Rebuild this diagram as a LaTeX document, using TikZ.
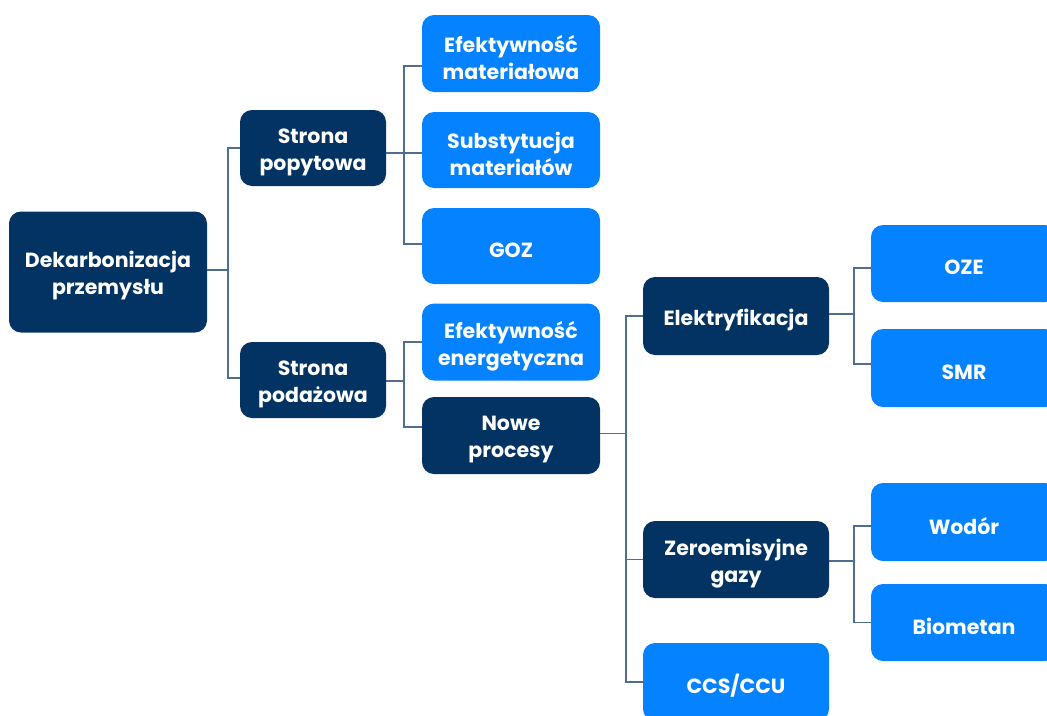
\documentclass[tikz,border=0pt]{standalone}
\usepackage{fontspec}
\setmainfont{Poppins}
\definecolor{navy}{HTML}{023363}
\definecolor{bright}{HTML}{0582FF}
\definecolor{linec}{HTML}{4F6E91}
\begin{document}
\begin{tikzpicture}[x=1pt,y=-1pt,
  box/.style={rounded corners=12pt, inner sep=0pt},
  txt/.style={align=center, text=white, inner sep=0pt, yshift=-4pt,
    font=\fontsize{20.5}{27}\selectfont\bfseries},
  dark/.style={box, fill=navy},
  light/.style={box, fill=bright},
  conn/.style={draw=linec, line width=1.1pt}]
\useasboundingbox (0,0) rectangle (1047,715);
\clip (0,0) rectangle (1047,715);
\node[dark, minimum width=198pt, minimum height=121pt, label={[txt]center:{Dekarbonizacja\\przemysłu}}] (dek) at (108,272) {};
\node[dark, minimum width=146pt, minimum height=76pt, label={[txt]center:{Strona\\popytowa}}] (pop) at (313,148) {};
\node[dark, minimum width=146pt, minimum height=76pt, label={[txt]center:{Strona\\podażowa}}] (pod) at (313,380) {};
\node[light, minimum width=178pt, minimum height=77pt, label={[txt]center:{Efektywność\\materiałowa}}] (em) at (511,53.5) {};
\node[light, minimum width=178pt, minimum height=76pt, label={[txt]center:{Substytucja\\materiałów}}] (sm) at (511,150) {};
\node[light, minimum width=178pt, minimum height=76pt, label={[txt]center:{GOZ}}] (goz) at (511,246) {};
\node[light, minimum width=178pt, minimum height=77pt, label={[txt]center:{Efektywność\\energetyczna}}] (ee) at (511,342) {};
\node[dark, minimum width=178pt, minimum height=77pt, label={[txt]center:{Nowe\\procesy}}] (np) at (511,435.5) {};
\node[dark, minimum width=186pt, minimum height=78pt, label={[txt]center:{Elektryfikacja}}] (el) at (736,316) {};
\node[dark, minimum width=186pt, minimum height=77pt, label={[txt]center:{Zeroemisyjne\\gazy}}] (zg) at (736,559.5) {};
\node[light, minimum width=186pt, minimum height=78pt, label={[txt]center:{CCS/CCU}}] (ccs) at (736,682) {};
\node[light, minimum width=186pt, minimum height=77pt, label={[txt]center:{OZE}}] (oze) at (964,263.5) {};
\node[light, minimum width=186pt, minimum height=78pt, label={[txt]center:{SMR}}] (smr) at (964,368) {};
\node[light, minimum width=186pt, minimum height=78pt, label={[txt]center:{Wodór}}] (wod) at (964,522) {};
\node[light, minimum width=186pt, minimum height=77pt, label={[txt]center:{Biometan}}] (bio) at (964,622.5) {};
\coordinate (b1) at (228,0);
\coordinate (b2) at (404,0);
\coordinate (b3) at (626,0);
\coordinate (b4) at (854,0);
% level 1
\draw[conn] ([yshift=2pt]dek.east) -- ([yshift=2pt]dek.east -| b1);
\draw[conn] (pop.west) -- (pop.west -| b1) -- ([yshift=2pt]pod.west -| b1) -- ([yshift=2pt]pod.west);
% popytowa
\draw[conn] ([yshift=-5pt]pop.east) -- ([yshift=-5pt]pop.east -| sm.west);
\draw[conn] ([yshift=-12.5pt]em.west) -- ([yshift=-12.5pt]em.west -| b2) -- ([yshift=2pt]goz.west -| b2) -- ([yshift=2pt]goz.west);
% podazowa
\draw[conn] ([yshift=-1pt]pod.east) -- ([yshift=-1pt]pod.east -| b2);
\draw[conn] (ee.west) -- (ee.west -| b2) -- ([yshift=8.5pt]np.west -| b2) -- ([yshift=8.5pt]np.west);
% nowe procesy
\draw[conn] ([yshift=2pt]np.east) -- ([yshift=2pt]np.east -| b3);
\draw[conn] (el.west) -- (el.west -| b3) -- (ccs.west -| b3) -- (ccs.west);
\draw[conn] (zg.west) -- (zg.west -| b3);
% elektryfikacja
\draw[conn] ([yshift=2pt]el.east) -- ([yshift=2pt]el.east -| b4);
\draw[conn] ([yshift=-4.5pt]oze.west) -- ([yshift=-4.5pt]oze.west -| b4) -- ([yshift=4pt]smr.west -| b4) -- ([yshift=4pt]smr.west);
% zeroemisyjne
\draw[conn] ([yshift=-1.5pt]zg.east) -- ([yshift=-1.5pt]zg.east -| b4);
\draw[conn] ([yshift=-4pt]wod.west) -- ([yshift=-4pt]wod.west -| b4) -- (bio.west -| b4) -- (bio.west);
\end{tikzpicture}
\end{document}
